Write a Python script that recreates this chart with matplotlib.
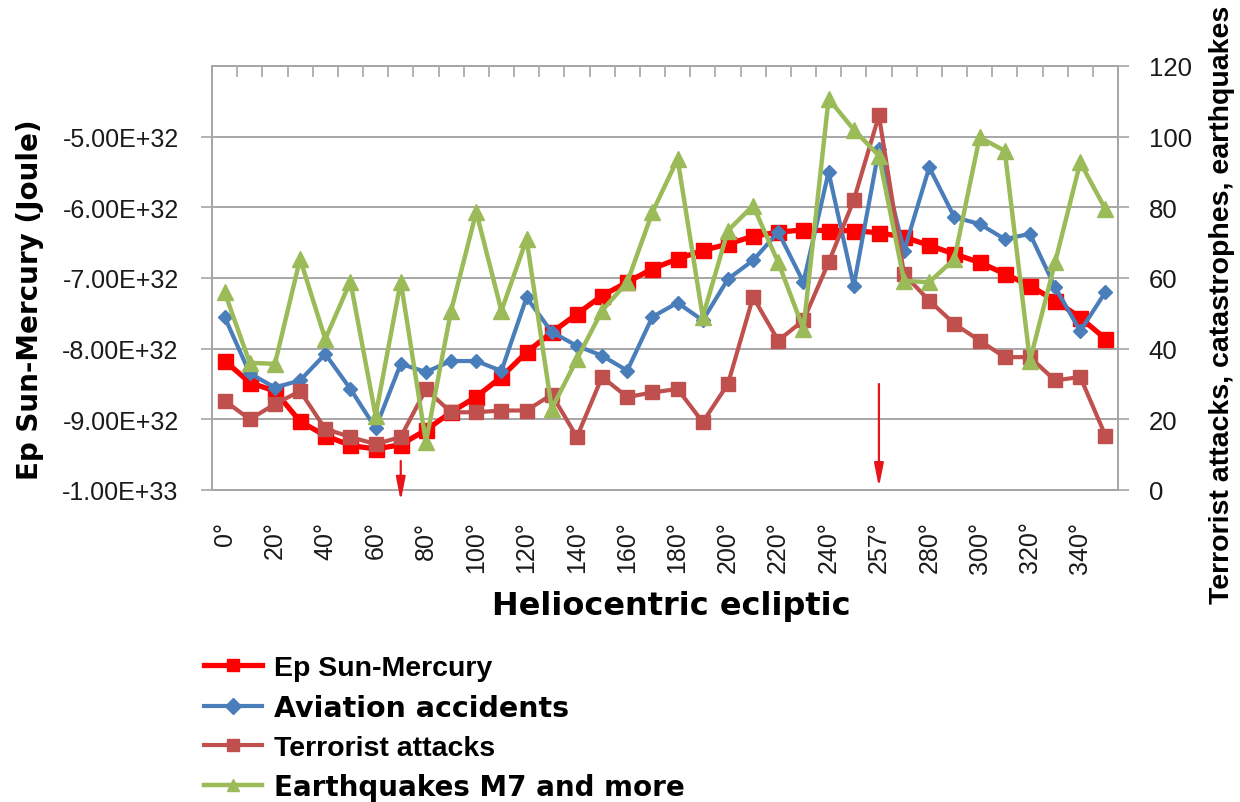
import numpy as np
import matplotlib
matplotlib.use("Agg")
import matplotlib.pyplot as plt
from matplotlib.ticker import FuncFormatter

# ---------------- data ----------------
categories = [f"{d}°" for d in range(0, 360, 10)]
tick_labels = ["0°", "20°", "40°", "60°", "80°", "100°", "120°", "140°", "160°",
               "180°", "200°", "220°", "240°", "257°", "280°", "300°", "320°", "340°"]

ep_sun_mercury = np.array([
    -8.17, -8.48, -8.60, -9.03, -9.23, -9.37, -9.42, -9.36, -9.15, -8.90,
    -8.68, -8.40, -8.05, -7.77, -7.51, -7.25, -7.06, -6.87, -6.73, -6.61,
    -6.52, -6.41, -6.35, -6.32, -6.33, -6.33, -6.36, -6.42, -6.54, -6.66,
    -6.78, -6.94, -7.11, -7.32, -7.56, -7.86]) * 1e32

aviation = [49, 33, 29, 31, 38.5, 28.6, 17.5, 35.7, 33.4, 36.5,
            36.5, 33.7, 54.5, 44.7, 40.8, 38, 33.8, 49, 53, 48,
            59.7, 65, 73, 58.8, 90, 57.8, 96.5, 67.7, 91.3, 77.2,
            75.3, 71, 72.5, 57.4, 45, 56]

terrorist = [25.3, 20, 24.3, 28, 17.3, 15, 13, 15, 28.5, 22,
             22, 22.5, 22.5, 27, 15, 32, 26.3, 27.6, 28.6, 19.2,
             30, 54.6, 42.3, 48, 64.4, 82, 106, 61, 53.6, 47,
             42.3, 37.6, 37.6, 31, 32, 15.4]

earthquakes = [56, 36, 35.7, 65.4, 42.7, 59, 21, 59, 13.6, 50.7,
               78.7, 50.7, 71, 23, 37, 50.8, 58.8, 78.6, 93.7, 49,
               73.4, 80.5, 64.4, 45.6, 110.7, 102, 94.6, 59.2, 58.8, 65.4,
               99.8, 96, 36.6, 64.4, 92.7, 79.5]

arrow_index = [7, 26]            # 70° and 257°
arrow_tail = [8.2, 30.0]         # right-axis units
arrow_head = [-3.1, 0.8]

# ---------------- style ----------------
C_EP = "#FF0000"
C_AV = "#4A7EBB"
C_TR = "#C0504D"
C_EQ = "#9BBB59"
GRID = "#A6A6A6"
TXT = "#1a1a1a"

fig = plt.figure(figsize=(12.4, 8.03), dpi=100)
ax = fig.add_axes([212 / 1240, (803 - 491) / 803, (1118 - 212) / 1240, (491 - 67) / 803])
ax2 = ax.twinx()

x = np.arange(len(categories))

l_ep, = ax.plot(x, ep_sun_mercury, color=C_EP, lw=3.8, marker="s", ms=10.8,
                mfc=C_EP, mec=C_EP, zorder=3)
l_av, = ax2.plot(x, aviation, color=C_AV, lw=3.0, marker="D", ms=6.8,
                 mfc=C_AV, mec=C_AV, zorder=3)
l_tr, = ax2.plot(x, terrorist, color=C_TR, lw=3.0, marker="s", ms=10.2,
                 mfc=C_TR, mec=C_TR, zorder=4)
l_eq, = ax2.plot(x, earthquakes, color=C_EQ, lw=3.2, marker="^", ms=12,
                 mfc=C_EQ, mec=C_EQ, zorder=5)

ax.set_xlim(-0.5, len(categories) - 0.5)
ax.set_ylim(-1e33, -4e32)
ax2.set_ylim(0, 120)

ax.set_yticks([-1e33, -9e32, -8e32, -7e32, -6e32, -5e32])
ax.yaxis.set_major_formatter(FuncFormatter(lambda v, p: f"{v:.2E}"))
ax2.set_yticks(range(0, 121, 20))

ax.set_axisbelow(True)
ax.yaxis.grid(True, color=GRID, lw=1.4)

ax.set_xticks(x[::2])
ax.set_xticklabels(tick_labels, rotation=90, fontsize=18,
                   fontfamily="Liberation Sans", color=TXT)
ax.set_xticks(np.arange(0.5, len(categories) - 1, 1), minor=True)
ax.tick_params(axis="x", which="major", length=0, pad=22)
ax.tick_params(axis="x", which="minor", bottom=False, top=True, direction="in",
               length=8, width=1.2, color=GRID)

ax.tick_params(axis="y", which="major", direction="out", length=8, width=1.2,
               color=GRID, pad=16, labelsize=18, labelcolor=TXT)
ax2.tick_params(axis="y", which="major", direction="out", length=8, width=1.2,
                color=GRID, pad=14, labelsize=18.5, labelcolor=TXT)
for lab in ax.get_yticklabels() + ax2.get_yticklabels():
    lab.set_fontfamily("Liberation Sans")

for a in (ax, ax2):
    for s in a.spines.values():
        s.set_color(GRID)
        s.set_linewidth(1.3)

# arrows
for i, t, h in zip(arrow_index, arrow_tail, arrow_head):
    ax2.annotate("", xy=(i, h), xytext=(i, t), annotation_clip=False,
                 arrowprops=dict(arrowstyle="-|>,head_length=1.4,head_width=0.28",
                                 color="#E8141B", lw=1.6, shrinkA=0, shrinkB=0),
                 zorder=6)

# axis titles
fig.text(30 / 1240, 1 - 300 / 803, "Ep Sun-Mercury (Joule)", rotation=90,
         ha="center", va="center", fontsize=20, fontweight="bold",
         fontfamily="DejaVu Sans", color="black")
fig.text(1222 / 1240, 1 - 305 / 803, "Terrorist attacks, catastrophes, earthquakes",
         rotation=90, ha="center", va="center", fontsize=20.5, fontweight="bold",
         fontfamily="Liberation Sans", color="black")
fig.text(671 / 1240, 1 - 607 / 803, "Heliocentric ecliptic", ha="center", va="center",
         fontsize=23, fontweight="bold", fontfamily="DejaVu Sans", color="black")

# legend
leg = fig.legend([l_ep, l_av, l_tr, l_eq],
                 ["Ep Sun-Mercury", "Aviation accidents", "Terrorist attacks",
                  "Earthquakes M7 and more"],
                 loc="upper left", bbox_to_anchor=(204 / 1240, 1 - 656 / 803),
                 frameon=False, handlelength=2.05, handletextpad=0.4,
                 labelspacing=0.45, borderaxespad=0, borderpad=0,
                 prop=dict(family="Liberation Sans", weight="bold", size=20.5))
for h in leg.legend_handles:
    h.set_markersize(8)
fams = ["Liberation Sans", "DejaVu Sans", "Liberation Sans", "DejaVu Sans"]
sizes = [20.5, 20.5, 20.5, 20]
for t, f, s in zip(leg.get_texts(), fams, sizes):
    t.set_fontfamily(f)
    t.set_fontweight("bold")
    t.set_fontsize(s)

fig.savefig("out.png", dpi=100)
